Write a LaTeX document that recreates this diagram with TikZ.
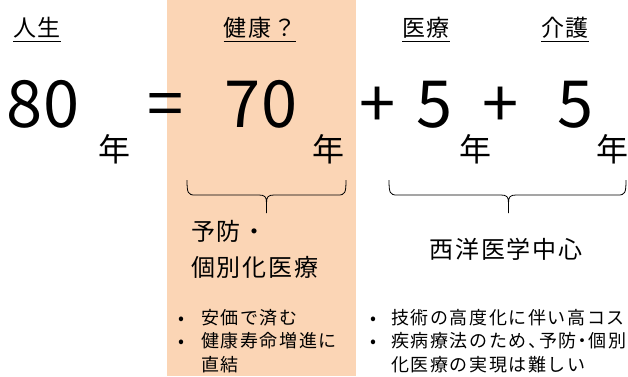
\documentclass[tikz,border=0pt]{standalone}
\usepackage{fontspec}
\setmainfont{Noto Sans CJK JP}
\newfontfamily\jpsp[LetterSpace=8]{Noto Sans CJK JP}
\newfontfamily\jpbul[LetterSpace=9]{Noto Sans CJK JP}
\definecolor{peach}{HTML}{FBD5B5}
\begin{document}
\begin{tikzpicture}[x=1pt,y=-1pt,
  every node/.style={inner sep=0pt,outer sep=0pt},
  head/.style={anchor=base,font=\fontsize{23}{23}\selectfont\jpsp},
  big/.style={anchor=base,font=\fontsize{65}{65}\selectfont},
  nen/.style={anchor=base,font=\fontsize{32}{32}\selectfont},
  mid/.style={anchor=base west,font=\fontsize{24}{24}\selectfont\jpsp},
  bul/.style={anchor=base west,font=\fontsize{18}{18}\selectfont\jpbul},
  dot/.style={anchor=base,font=\fontsize{17.5}{17.5}\selectfont},
  uline/.style={line width=1.3pt},
  brace/.style={line width=0.8pt}]
\useasboundingbox (0,0) rectangle (628,376);
\clip (0,0) rectangle (628,376);
\fill[peach] (167,0) rectangle (356,376);
% headers
\node[head] (h1) at (37,36.5) {人生};
\node[head] (h2) at (260,36.5) {健康？};
\node[head] (h3) at (426,36.5) {医療};
\node[head] (h4) at (565,36.5) {介護};
\foreach \h in {h1,h2,h3,h4}
  \draw[uline] ([yshift=-5pt]\h.base west) -- ([yshift=-5pt]\h.base east);
% equation
\node[big] (n80) at (43,127) {80};
\node[big] (eq) at (166,127) {=};
\node[big] (n70) at (261,127) {70};
\node[big] (p1) at (378,127) {+};
\node[big] (n5a) at (435,127) {5};
\node[big] (p2) at (501,127) {+};
\node[big] (n5b) at (576,127) {5};
\node[nen] (y1) at (114,161) {年};
\node[nen] (y2) at (328,161) {年};
\node[nen] (y3) at (475,161) {年};
\node[nen] (y4) at (612,161) {年};
% braces
\coordinate (b1) at (187,180);
\coordinate (b2) at (346,180);
\coordinate (b3) at (389,180);
\coordinate (b4) at (626,180);
\draw[brace] (b1) .. controls (187,193) and (188,195) .. (195,195) -- (259,195)
  .. controls (265,195) and (266.5,197) .. (266.5,203) -- (266.5,213)
  (266.5,203) .. controls (266.5,197) and (268,195) .. (274,195) -- (338,195)
  .. controls (345,195) and (346,193) .. (b2);
\draw[brace] (b3) .. controls (389,193) and (390,195) .. (397,195) -- (501,195)
  .. controls (507,195) and (508.5,197) .. (508.5,203) -- (508.5,213)
  (508.5,203) .. controls (508.5,197) and (510,195) .. (516,195) -- (618,195)
  .. controls (625,195) and (626,193) .. (b4);
% brace labels
\node[mid] (m1) at (191,240) {予防・};
\node[mid] (m2) at (191,276) {個別化医療};
\node[mid,anchor=base] (m3) at (506,258.5) {西洋医学中心};
% bullets left
\node[dot] (d1) at (181,324) {•};
\node[bul] (l1) at (201,324) {安価で済む};
\node[dot] (d2) at (181,347) {•};
\node[bul] (l2) at (201,347) {健康寿命増進に};
\node[bul] (l3) at (201,371) {直結};
% bullets right
\node[dot] (d3) at (373,324) {•};
\node[bul] (r1) at (391,324) {技術の高度化に伴い高コスト};
\node[dot] (d4) at (373,347) {•};
\node[bul] (r2) at (391,347) {疾病療法のため、\kern-7pt 予防\kern-3pt・\kern-3pt 個別};
\node[bul] (r3) at (391,371) {化医療の実現は難しい};
\end{tikzpicture}
\end{document}
